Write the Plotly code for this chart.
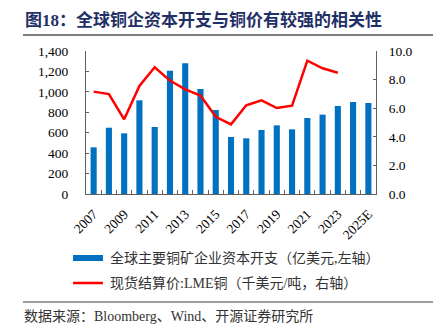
import plotly.graph_objects as go

years = ["2007","2008","2009","2010","2011","2012","2013","2014","2015","2016",
         "2017","2018","2019","2020","2021","2022","2023","2024","2025E"]
capex = [457, 649, 594, 917, 656, 1207, 1279, 1028, 822, 558,
         545, 627, 672, 633, 744, 777, 862, 901, 891]
lme_years = years[:17]
lme_price = [7.16, 6.99, 5.22, 7.55, 8.86, 7.93, 7.32, 6.88, 5.40, 4.87,
             6.20, 6.55, 6.01, 6.18, 9.32, 8.79, 8.48]
tick_labels = [y if i % 2 == 0 else "" for i, y in enumerate(years)]

title_text = "图18：全球铜企资本开支与铜价有较强的相关性"
legend_bar = "全球主要铜矿企业资本开支（亿美元,左轴）"
legend_line = "现货结算价:LME铜（千美元/吨，右轴）"
source_text = "数据来源：Bloomberg、Wind、开源证券研究所"

W, H = 441, 328
L, R, T, B = 86, 376, 51, 194

def px(x):
    return (x - L) / (R - L)

def py(y):
    return (B - y) / (B - T)

SERIF = "Liberation Serif, Times New Roman, Noto Sans CJK SC"
CJK = "Liberation Serif, Noto Sans CJK SC"
BLUE = "#0070C0"
RED = "#FF0000"
AX = "#606060"

fig = go.Figure()
fig.add_trace(go.Bar(x=years, y=capex, marker_color=BLUE, marker_line_width=0,
                     width=0.4, showlegend=False, yaxis="y"))
fig.add_trace(go.Scatter(x=lme_years, y=lme_price, mode="lines",
                         line=dict(color=RED, width=2.5), showlegend=False, yaxis="y2"))

fig.update_layout(
    width=W, height=H,
    margin=dict(l=L, r=W - R, t=T, b=H - B, autoexpand=False),
    paper_bgcolor="white", plot_bgcolor="white",
    xaxis=dict(type="category", categoryorder="array", categoryarray=years,
               tickvals=years, ticktext=tick_labels, tickson="boundaries",
               ticks="inside", ticklen=4, tickcolor=AX, tickangle=-45,
               showline=True, linecolor=AX, linewidth=1, showgrid=False,
               tickfont=dict(family=SERIF, size=13.5, color="#000"),
               ticklabelstandoff=6, automargin=False),
    yaxis=dict(range=[0, 1400], dtick=200, tickformat=",d", ticks="inside",
               ticklen=3, tickcolor=AX, showline=True, linecolor=AX, linewidth=1,
               showgrid=False, zeroline=False,
               tickfont=dict(family=SERIF, size=13.5, color="#000"),
               ticklabelstandoff=14, automargin=False),
    yaxis2=dict(range=[0, 10], dtick=2, tickformat=".1f", ticks="inside",
                ticklen=3, tickcolor=AX, showline=True, linecolor=AX, linewidth=1,
                showgrid=False, zeroline=False, overlaying="y", side="right",
                tickfont=dict(family=SERIF, size=13.5, color="#000"),
                ticklabelstandoff=9, automargin=False),
    bargap=0.6,
)

shapes = [
    dict(type="line", xref="paper", yref="paper", x0=px(23), x1=px(433), y0=py(35), y1=py(35),
         line=dict(color="#7f7f7f", width=2)),
    dict(type="line", xref="paper", yref="paper", x0=px(23), x1=px(433), y0=py(302), y1=py(302),
         line=dict(color="#7f7f7f", width=1.5)),
    dict(type="rect", xref="paper", yref="paper", x0=px(73), x1=px(103), y0=py(255), y1=py(261),
         fillcolor=BLUE, line=dict(width=0)),
    dict(type="line", xref="paper", yref="paper", x0=px(73), x1=px(103), y0=py(283), y1=py(283),
         line=dict(color=RED, width=2.5)),
]
fig.update_layout(shapes=shapes)

ann = [
    dict(text="<b>" + title_text + "</b>", x=px(23), y=py(20), xanchor="left", yanchor="middle",
         font=dict(family=CJK, size=17, color="#1F3066")),
    dict(text=legend_bar, x=px(108), y=py(258), xanchor="left", yanchor="middle",
         font=dict(family=CJK, size=14, color="#333")),
    dict(text=legend_line, x=px(108), y=py(283), xanchor="left", yanchor="middle",
         font=dict(family=CJK, size=14, color="#333")),
    dict(text=source_text, x=px(22), y=py(316), xanchor="left", yanchor="middle",
         font=dict(family=CJK, size=14, color="#333")),
]
for a in ann:
    a.update(xref="paper", yref="paper", showarrow=False)
fig.update_layout(annotations=ann)

fig.write_html("out.html")
